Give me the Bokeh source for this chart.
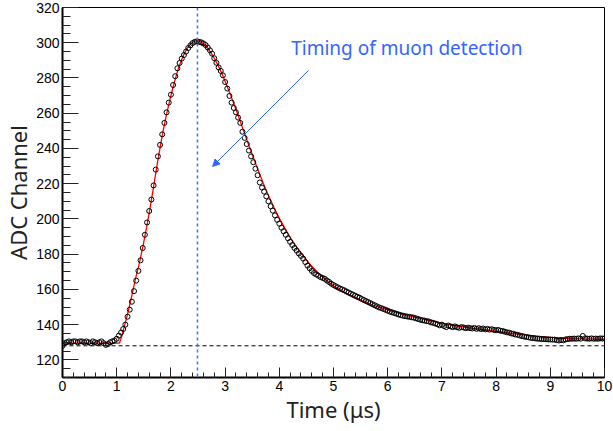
import numpy as np
from bokeh.plotting import figure
from bokeh.models import Span, Arrow, NormalHead, Label, SingleIntervalTicker, Range1d
from bokeh.embed import file_html
from bokeh.resources import INLINE

# ADC samples every 40 ns
adc_values = [
    128, 129.5, 130, 130.5, 130, 130.5, 130.5, 130, 130.5, 130.5,
    130, 130.5, 130, 129.5, 130.5, 130, 129.5, 130, 130.5, 129.5,
    128.5, 129, 130, 130.5, 131,
    132, 133.8, 135.5, 137.5, 140, 144.5, 148.5, 153, 159, 165,
    170.5, 176.5, 183.5, 191, 198, 204.5, 211, 219, 228, 235.5,
    242, 248, 254.5, 260.5, 266, 270.5, 276, 281, 285.5, 288.5,
    291, 293, 295, 297, 298.5, 299.8, 300.5, 300.8, 300.5,
    300.2, 299.6, 298.7, 297.3, 295.7, 293.8, 291.2, 288.6, 286, 284,
    281.5, 277.7, 274, 269.8, 266, 263, 260.5, 257.5, 254.5, 249.5,
    246, 242.5, 238.8, 235.5, 232.2, 228.5, 224.8, 220.7, 217.8, 215.5,
    212.8, 210, 207.2, 204.7, 202, 199.5, 197.3, 195, 193, 191,
    189, 187, 185.2, 183.5, 182, 180.4, 179, 177.5, 175.5, 173.5,
    172, 170.5, 169.3, 168.5, 167.8, 167, 166.5, 166, 165, 164.2,
    163.2, 162.5, 161.8, 161.2, 160.5, 160, 159.5, 158.8, 158.2, 157.6,
    157, 156.4, 155.8, 155.3, 154.6, 154, 153.4, 152.8, 152.2, 151.6,
    151, 150.4, 149.8, 149.4, 148.9, 148.4, 147.9, 147.4, 147, 146.6,
    146.2, 145.8, 145.4, 145.1, 144.8, 144.6, 144.4, 144.2, 144, 143.6,
    143.2, 142.8, 142.5,
    142.3, 142, 141.8, 141.3, 141, 140.6, 140.2, 139.6, 140, 139.2,
    138.6, 139.5, 139, 138.6, 139, 138.5, 138.2, 138.6, 138.4, 138,
    138.3, 138, 137.8, 138.1, 137.6, 138, 137.5, 137.8, 137.3, 137.6,
    137.2, 137.4, 137, 136.8, 137, 136.5, 136.4, 136, 135.6, 135.5,
    135, 134.8, 134.4, 134.2, 133.8, 133.5, 133.2, 133, 132.8, 132.5,
    132.4, 132.2, 132, 132, 131.8, 131.8, 131.7, 131.6, 131.6, 131.5,
    131.5, 131.2, 131, 131.3, 131.1, 131.6, 131.8, 132, 132, 132.1,
    132, 132.2, 132, 133.6, 132.2, 132.1, 132, 132.2, 132, 132.1,
    132, 132.2, 132.1, 132.2,
]
sample_step_us = 0.04
adc_time = [round(i * sample_step_us, 2) for i in range(len(adc_values))]

# fitted pulse (red curve)
fit_time = [0.04, 1.05, 1.10, 1.15, 1.20, 1.25, 1.30, 1.35, 1.40, 1.45, 1.50, 1.55, 1.60,
            1.65, 1.70, 1.75, 1.80, 1.85, 1.90, 1.95, 2.00, 2.05, 2.10, 2.15, 2.20,
            2.25, 2.30, 2.35, 2.40, 2.45, 2.50, 2.55, 2.60, 2.65, 2.70, 2.75, 2.80,
            2.85, 2.90, 2.95, 3.00, 3.10, 3.20, 3.30, 3.40, 3.50, 3.60, 3.70, 3.80,
            3.90, 4.00, 4.10, 4.20, 4.30, 4.40, 4.50, 4.60, 4.70, 4.80, 4.90, 5.00,
            5.20, 5.40, 5.60, 5.80, 6.00, 6.20, 6.40, 6.60, 6.80, 7.00, 7.20, 7.40,
            7.60, 7.80, 8.00, 8.20, 8.40, 8.60, 8.80, 9.00, 9.20, 9.40, 9.60, 9.80, 10.0]
fit_values = [129.5, 129.5, 134, 140, 146, 152.5, 159.5, 166.5, 172.5, 179.5, 187, 195, 203.5,
              212.5, 222, 231.5, 240.5, 249, 256.5, 263.5, 270, 276, 281.5, 286.5, 290.5,
              294, 296.8, 298.8, 300.2, 301, 301.1, 300.5, 299.4, 297.9, 296, 293.8, 291.2,
              288.3, 285.2, 281.8, 278.2, 270.4, 262.2, 253.6, 245, 236.6, 228.4, 220.6, 213.3,
              206.6, 200.4, 194.8, 189.6, 184.9, 180.6, 176.7, 173.1, 169.9, 167, 164.4, 162.1,
              158.2, 155.1, 152.5, 150.3, 148.4, 146.6, 145, 143.5, 142.1, 140.8, 139.7, 138.7,
              137.8, 137, 136.2, 135.4, 134.6, 133.9, 133.3, 132.8, 132.4, 132.1, 131.9, 131.8, 131.7]

baseline_level = 128
muon_time = 2.49
annotation_text = "Timing of muon detection"

p = figure(width=613, height=431, x_range=Range1d(0, 10), y_range=Range1d(110, 320),
           output_backend="svg", toolbar_location=None,
           min_border_left=60, min_border_right=9, min_border_top=7, min_border_bottom=54)
p.background_fill_color = "white"
p.border_fill_color = "white"
p.outline_line_color = "black"
p.outline_line_width = 1
p.xgrid.visible = False
p.ygrid.visible = False

p.xaxis.ticker = SingleIntervalTicker(interval=1, num_minor_ticks=5)
p.yaxis.ticker = SingleIntervalTicker(interval=20, num_minor_ticks=4)
for ax in (p.xaxis[0], p.yaxis[0]):
    ax.axis_line_color = "black"
    ax.axis_line_width = 2
    ax.major_tick_out = 0
    ax.minor_tick_out = 0
    ax.major_tick_line_color = "#222222"
    ax.minor_tick_line_color = "#222222"
    ax.major_label_text_font = "Liberation Sans"
    ax.major_label_text_font_size = "14px"
    ax.major_label_text_color = "black"
    ax.axis_label_text_font = "Noto Sans"
    ax.axis_label_text_font_size = "22px"
    ax.axis_label_text_font_style = "normal"
    ax.axis_label_text_color = "#222222"
p.yaxis.major_tick_in = 16
p.yaxis.minor_tick_in = 8
p.xaxis.major_tick_in = 10
p.xaxis.minor_tick_in = 5
p.yaxis.major_label_standoff = 3
p.xaxis.major_label_standoff = 3
p.yaxis.axis_label_standoff = 0
p.xaxis.axis_label_standoff = 0
p.xaxis.axis_label = "Time (μs)"
p.yaxis.axis_label = "ADC Channel"

p.add_layout(Span(location=baseline_level, dimension="width", line_color="black",
                  line_width=1, line_dash="4 3"))
p.add_layout(Span(location=muon_time, dimension="height", line_color="#3f72f2",
                  line_width=1.5, line_dash="3 3"))

p.line(fit_time, fit_values, line_color="#ff0000", line_width=1.3)
p.scatter(adc_time, adc_values, marker="circle", size=5, fill_color=None,
          line_color="black", line_width=1)

p.add_layout(Arrow(end=NormalHead(size=7, fill_color="#3366ff", line_color="#3366ff", line_width=1),
                   x_start=4.54, y_start=284.3, x_end=2.77, y_end=229.8,
                   line_color="#3366ff", line_width=1))
p.add_layout(Label(x=4.22, y=296.8, text=annotation_text, text_baseline="middle",
                   text_font="Noto Sans", text_font_size="19px", text_color="#3366ff"))

open("out.html", "w").write(file_html(p, INLINE))
